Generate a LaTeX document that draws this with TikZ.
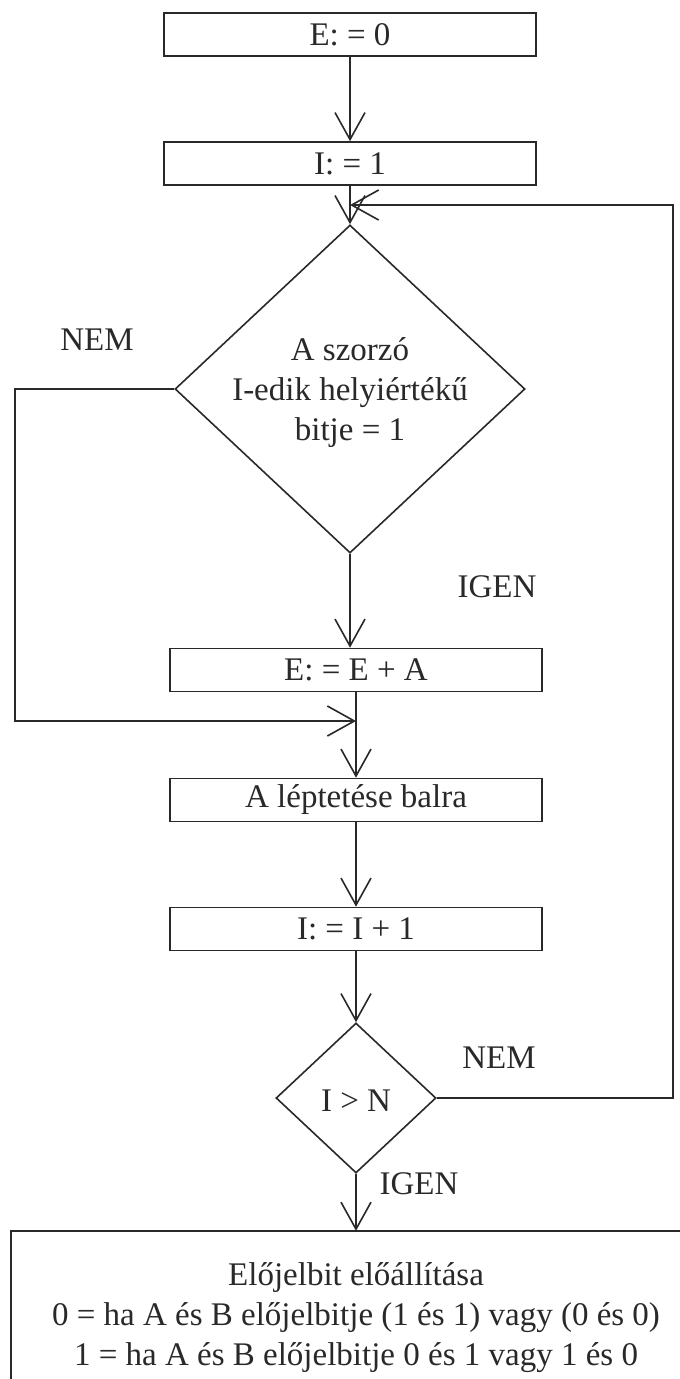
\documentclass[tikz,border=0pt]{standalone}
\usepackage{fontspec}
\setmainfont{Liberation Serif}
\usetikzlibrary{arrows.meta,shapes.geometric}
\definecolor{ink}{gray}{0.16}
\begin{document}
\begin{tikzpicture}[x=1pt,y=-1pt,
  every node/.style={font=\fontsize{33}{40}\selectfont, text=ink},
  stepbox/.style={draw=ink, line width=1.6pt, minimum width=372pt, minimum height=43pt, inner sep=0pt},
  decision/.style={draw=ink, diamond, line width=1.6pt, inner sep=0pt, align=center},
  flow/.style={draw=ink, line width=1.6pt, line join=miter, -{Straight Barb[length=27pt,width=30pt]}},
  plain/.style={draw=ink, line width=1.6pt},
  lbl/.style={inner sep=0pt}]
\useasboundingbox[fill=white] (0,0) rectangle (680,1379);

% process steps and decisions
\node[stepbox] (b1) at (350,34.5) {E: = 0};
\node[stepbox] (b2) at (350,163.5) {I: = 1};
\node[decision, minimum width=350pt, minimum height=328pt] (d1) at (350,389) {};
\node[lbl, align=center] (d1text) at (350,393)
  {A szorzó\\I-edik helyiértékű\\bitje = 1};
\node[stepbox] (b3) at (356,670) {E: = E + A};
\node[stepbox] (b4) at (356,800) {A léptetése balra};
\node[stepbox] (b5) at (356,929) {I: = I + 1};
\node[decision, minimum width=160pt, minimum height=150pt] (d2) at (356,1098) {};
\node[lbl] (d2text) at (356,1101) {I > N};

% final block: only its top and left edges fall on the page
\node[minimum width=669pt, minimum height=148pt, inner sep=0pt] (out) at (345.5,1305) {};
\draw[plain] (out.north east) -- (out.north west) -- (out.south west);
\node[lbl, align=center] (outtext) at (356,1318)
  {Előjelbit előállítása\\
   0 = ha A és B előjelbitje (1 és 1) vagy (0 és 0)\\
   1 = ha A és B előjelbitje 0 és 1 vagy 1 és 0};

% branch labels
\node[lbl] (nem1) at (97,340) {NEM};
\node[lbl] (igen1) at (497,587) {IGEN};
\node[lbl] (nem2) at (499,1058) {NEM};
\node[lbl] (igen2) at (419,1184) {IGEN};

% junction points
\coordinate (loopin) at (350,205);
\coordinate (joinin) at (356,721);

% main flow
\draw[flow] (b1) -- (b2);
\draw[flow] (b2) -- (d1);
\draw[flow] (d1.south) -- (d1.south |- b3.north);
\draw[flow] (b3) -- (b4);
\draw[flow] (b4) -- (b5);
\draw[flow] (b5) -- (d2);
\draw[flow] (d2.south) -- (d2.south |- out.north);

% NEM branch of the bit test bypasses the addition
\draw[flow] (d1.west) -- (15,389) -- (15,721) -- (joinin);

% loop back while I <= N
\draw[flow] (d2.east) -- (673,1098) -- (673,205) -- (loopin);
\end{tikzpicture}
\end{document}
